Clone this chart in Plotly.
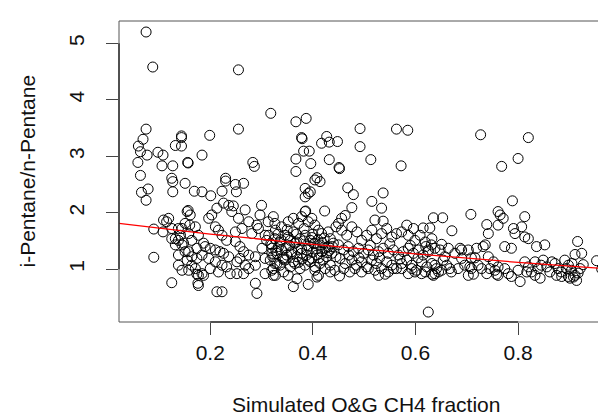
import plotly.graph_objects as go

# O&G CH4 fraction vs i-pentane/n-pentane ratio
frac = [
    0.075, 0.088, 0.255, 0.318, 0.075, 0.255, 0.069, 0.144, 0.144, 0.199, 0.060, 0.064, 0.132, 0.144,
    0.077, 0.098, 0.108, 0.059, 0.184, 0.156, 0.157, 0.106, 0.127, 0.283, 0.286, 0.064, 0.125, 0.230,
    0.127, 0.127, 0.151, 0.079, 0.066, 0.075, 0.169, 0.184, 0.201, 0.223, 0.230, 0.249, 0.251, 0.265,
    0.155, 0.157, 0.115, 0.090, 0.108, 0.125, 0.151, 0.160, 0.171, 0.125, 0.138, 0.090, 0.151, 0.164,
    0.174, 0.138, 0.145, 0.158, 0.174, 0.184, 0.176, 0.177, 0.125, 0.213, 0.223, 0.197, 0.203, 0.213,
    0.226, 0.236, 0.245, 0.190, 0.200, 0.210, 0.219, 0.226, 0.210, 0.216, 0.223, 0.232, 0.239, 0.252,
    0.265, 0.252, 0.288, 0.291, 0.249, 0.258, 0.265, 0.275, 0.288, 0.300, 0.297, 0.291, 0.307, 0.320,
    0.323, 0.327,
    0.145, 0.158, 0.142, 0.148, 0.164, 0.177, 0.187, 0.174, 0.184, 0.197, 0.155, 0.164, 0.138, 0.132,
    0.210, 0.223, 0.200, 0.216, 0.187, 0.242, 0.255, 0.268, 0.275, 0.262, 0.249, 0.281, 0.294, 0.313,
    0.327, 0.310, 0.301, 0.288, 0.307, 0.320, 0.330, 0.320, 0.307, 0.236, 0.258, 0.268, 0.275, 0.232,
    0.109, 0.119, 0.138, 0.161, 0.132, 0.145, 0.158, 0.171, 0.177,
    0.367, 0.387, 0.378, 0.379, 0.427, 0.417, 0.432, 0.448, 0.492, 0.563, 0.585, 0.492, 0.382, 0.393,
    0.367, 0.396, 0.432, 0.451, 0.452, 0.513, 0.572, 0.367, 0.408,
    0.404, 0.414, 0.385, 0.395, 0.385, 0.391, 0.468, 0.479, 0.515, 0.537, 0.534, 0.476, 0.423, 0.386,
    0.323, 0.456, 0.463, 0.521, 0.537, 0.583, 0.596, 0.615, 0.628, 0.635, 0.625, 0.362, 0.391, 0.323,
    0.343, 0.411, 0.404, 0.452, 0.528, 0.541, 0.612, 0.632, 0.573, 0.593,
    0.326, 0.339, 0.352, 0.362, 0.372, 0.378, 0.385, 0.391, 0.398, 0.404, 0.411, 0.417,
    0.314, 0.326, 0.336, 0.346, 0.356, 0.365, 0.375, 0.385, 0.395, 0.404, 0.414, 0.424, 0.434, 0.440,
    0.320, 0.330, 0.339, 0.349, 0.359, 0.369, 0.378, 0.388, 0.398, 0.408, 0.417, 0.427, 0.437,
    0.317, 0.326, 0.336, 0.346, 0.356, 0.365, 0.375, 0.385, 0.395, 0.404, 0.414, 0.424, 0.434,
    0.352, 0.369, 0.408, 0.434, 0.443,
    0.450, 0.456, 0.466, 0.476, 0.486, 0.495, 0.505, 0.515, 0.524, 0.534, 0.544, 0.554, 0.563, 0.573,
    0.586, 0.599, 0.609, 0.619, 0.632,
    0.450, 0.460, 0.469, 0.479, 0.489, 0.499, 0.508, 0.518, 0.528, 0.537, 0.547, 0.557, 0.567, 0.576,
    0.586, 0.596, 0.606, 0.615, 0.625, 0.638,
    0.453, 0.463, 0.476, 0.485, 0.495, 0.505, 0.515, 0.524, 0.534, 0.544, 0.554, 0.563, 0.573, 0.583,
    0.593, 0.602, 0.612, 0.622, 0.632, 0.641,
    0.460, 0.472, 0.482, 0.495, 0.508, 0.521, 0.547, 0.557, 0.586, 0.599, 0.619, 0.638,
    0.333, 0.343, 0.355, 0.362, 0.371, 0.380, 0.392, 0.400, 0.410, 0.420, 0.430, 0.445, 0.350, 0.368,
    0.383, 0.400, 0.430, 0.445,
    0.470, 0.490, 0.512, 0.530, 0.550, 0.570, 0.590, 0.605, 0.620,
    0.318, 0.328, 0.338, 0.348, 0.358, 0.368, 0.378, 0.388, 0.398, 0.408, 0.418, 0.428, 0.438,
    0.322, 0.332, 0.342, 0.352, 0.362, 0.372, 0.382, 0.392, 0.402, 0.412, 0.422, 0.432,
    0.727, 0.820, 0.800, 0.768,
    0.789, 0.653, 0.708, 0.671, 0.761, 0.765, 0.771, 0.761, 0.739, 0.742, 0.736, 0.732, 0.813, 0.791,
    0.807, 0.794, 0.813, 0.820, 0.836, 0.852, 0.774, 0.787, 0.916, 0.924, 0.911, 0.953, 0.963, 0.804,
    0.687, 0.690, 0.651, 0.648, 0.709, 0.716, 0.709, 0.713, 0.742, 0.745, 0.739, 0.761, 0.774, 0.781,
    0.758,
    0.813, 0.820, 0.817, 0.833, 0.839, 0.849, 0.856, 0.862, 0.872, 0.878, 0.875, 0.891, 0.898, 0.904,
    0.911, 0.914, 0.901, 0.921,
    0.638, 0.645, 0.635, 0.661, 0.667, 0.654, 0.625,
    0.703, 0.706, 0.761, 0.787, 0.800, 0.833, 0.843, 0.885, 0.898,
    0.722, 0.729, 0.755, 0.752,
    0.631, 0.657, 0.664, 0.677, 0.690, 0.696, 0.683, 0.670, 0.651, 0.719, 0.703,
    0.826, 0.845, 0.866, 0.884, 0.894, 0.905, 0.917, 0.908, 0.927,
]

ratio = [
    5.20, 4.58, 4.53, 3.76, 3.48, 3.48, 3.30, 3.36, 3.33, 3.37, 3.18, 3.08, 3.19, 3.18,
    3.02, 3.07, 3.02, 2.89, 3.02, 2.89, 2.88, 2.83, 2.83, 2.89, 2.82, 2.66, 2.61, 2.61,
    2.55, 2.37, 2.52, 2.42, 2.36, 2.22, 2.38, 2.37, 2.30, 2.38, 2.56, 2.50, 2.37, 2.52,
    2.02, 2.04, 1.84, 1.71, 1.66, 1.72, 1.81, 1.78, 1.75, 1.54, 1.51, 1.21, 1.31, 1.22,
    1.19, 1.07, 0.98, 0.98, 0.91, 0.92, 0.75, 0.71, 0.76, 0.60, 0.60, 1.90, 1.96, 2.08,
    2.17, 2.13, 2.12, 1.40, 1.37, 1.34, 1.31, 1.28, 1.75, 1.69, 1.60, 1.51, 0.92, 0.92,
    0.92, 1.13, 0.75, 0.57, 1.49, 1.40, 1.31, 1.25, 1.22, 2.13, 1.96, 1.78, 1.60, 1.43,
    1.01, 0.89,
    1.72, 1.63, 1.60, 1.46, 1.51, 1.60, 1.46, 1.37, 1.25, 1.19, 1.16, 1.07, 1.25, 1.43,
    1.13, 1.07, 1.01, 0.95, 0.89, 2.02, 1.90, 2.05, 1.84, 1.72, 1.66, 1.63, 1.72, 1.84,
    1.69, 1.51, 1.37, 1.07, 1.19, 1.28, 1.10, 0.98, 0.92, 1.22, 1.19, 1.07, 1.01, 1.04,
    1.87, 1.90, 1.72, 1.96, 1.54, 1.43, 1.31, 1.01, 0.89,
    3.61, 3.67, 3.33, 3.31, 3.35, 3.23, 3.25, 3.26, 3.49, 3.48, 3.46, 3.17, 3.09, 3.09,
    2.95, 2.87, 2.94, 2.80, 2.78, 2.94, 2.83, 2.73, 2.62,
    2.58, 2.55, 2.43, 2.37, 2.28, 2.34, 2.44, 2.32, 2.20, 2.35, 2.08, 2.09, 2.03, 2.03,
    1.93, 1.90, 1.95, 1.87, 1.85, 1.78, 1.72, 1.73, 1.73, 1.91, 0.24, 0.69, 0.73, 0.89,
    0.95, 0.89, 0.98, 0.88, 0.89, 0.91, 0.92, 0.91, 1.01, 1.01,
    1.81, 1.75, 1.84, 1.90, 1.81, 1.93, 2.02, 1.84, 1.90, 1.78, 1.69, 1.63,
    1.60, 1.54, 1.48, 1.60, 1.51, 1.46, 1.54, 1.60, 1.51, 1.46, 1.43, 1.37, 1.54, 1.46,
    1.37, 1.28, 1.34, 1.25, 1.31, 1.22, 1.28, 1.34, 1.19, 1.25, 1.31, 1.22, 1.28,
    1.16, 1.10, 1.07, 1.16, 1.04, 1.10, 1.01, 1.07, 1.13, 1.04, 1.10, 1.01, 1.07,
    0.89, 0.83, 0.86, 0.95, 0.98,
    1.81, 1.69, 1.60, 1.75, 1.66, 1.51, 1.60, 1.69, 1.54, 1.63, 1.72, 1.57, 1.63, 1.66,
    1.60, 1.51, 1.60, 1.48, 1.54,
    1.43, 1.34, 1.40, 1.31, 1.37, 1.28, 1.34, 1.25, 1.31, 1.37, 1.28, 1.34, 1.25, 1.31,
    1.37, 1.28, 1.34, 1.25, 1.31, 1.37,
    1.19, 1.10, 1.16, 1.07, 1.13, 1.04, 1.16, 1.10, 1.01, 1.13, 1.07, 1.01, 1.10, 1.16,
    1.07, 0.98, 1.13, 1.04, 1.10, 1.01,
    1.01, 0.95, 1.01, 0.95, 1.01, 0.98, 0.95, 1.01, 0.92, 0.95, 0.95, 0.92,
    1.40, 1.20, 1.42, 1.13, 1.35, 1.18, 1.41, 1.30, 1.52, 1.16, 1.40, 1.22, 1.70, 1.62,
    1.72, 1.62, 1.66, 1.75,
    1.25, 1.20, 1.42, 1.20, 1.45, 1.18, 1.42, 1.20, 1.40,
    1.45, 1.33, 1.52, 1.38, 1.27, 1.48, 1.36, 1.25, 1.56, 1.36, 1.47, 1.29, 1.40,
    1.22, 1.62, 1.18, 1.57, 1.66, 1.12, 1.50, 1.16, 1.45, 1.20, 1.55, 1.33,
    3.38, 3.33, 2.96, 2.82,
    2.21, 1.91, 1.97, 1.68, 2.02, 1.96, 1.90, 1.78, 1.79, 1.63, 1.43, 1.40, 1.93, 1.72,
    1.75, 1.63, 1.57, 1.54, 1.40, 1.43, 1.40, 1.37, 1.49, 1.28, 1.26, 1.15, 1.00, 0.78,
    1.37, 1.34, 1.44, 1.34, 1.20, 1.20, 1.01, 0.91, 1.22, 1.01, 0.92, 1.04, 1.01, 0.92,
    0.91,
    1.13, 1.04, 0.95, 1.13, 1.01, 1.16, 1.04, 0.95, 1.10, 1.01, 0.89, 1.16, 1.07, 0.98,
    0.89, 0.80, 0.84, 1.01,
    1.07, 0.95, 0.89, 1.07, 1.01, 1.16, 1.34,
    0.89, 1.04, 0.89, 0.87, 0.98, 0.89, 0.84, 0.87, 0.87,
    1.07, 1.01, 0.98, 1.13,
    1.43, 1.22, 1.37, 1.28, 1.19, 1.07, 1.01, 0.95, 0.98, 1.37, 1.34,
    0.95, 1.07, 1.13, 0.95, 1.01, 1.10, 0.93, 0.86, 1.08,
]

# fitted curve (red)
fit_x = [0.022, 0.2, 0.4, 0.6, 0.8, 0.985]
fit_y = [1.81, 1.62, 1.44, 1.27, 1.12, 1.00]

x_ticks = [0.2, 0.4, 0.6, 0.8]
y_ticks = [1, 2, 3, 4, 5]

fig = go.Figure()
fig.add_trace(go.Scatter(x=frac, y=ratio, mode="markers",
                         marker=dict(symbol="circle-open", size=10, color="black",
                                     line=dict(width=1, color="black")),
                         showlegend=False))
fig.add_trace(go.Scatter(x=fit_x, y=fit_y, mode="lines",
                         line=dict(color="red", width=1.3), showlegend=False))

font = dict(family="Liberation Sans, Arial, sans-serif", size=21, color="#111")

fig.update_layout(
    width=606, height=415,
    margin=dict(l=111, r=1, t=13, b=101),
    plot_bgcolor="white", paper_bgcolor="white",
    font=font,
    xaxis=dict(range=[0.0222, 0.985], tickvals=x_ticks, ticktext=[str(v) for v in x_ticks],
               showgrid=False, zeroline=False, showline=False,
               ticks="outside", ticklen=12, tickcolor="#444", tickwidth=1, tickfont=font),
    yaxis=dict(range=[0.064, 5.395], tickvals=y_ticks, showgrid=False, zeroline=False,
               showline=False, ticks="outside", ticklen=12, tickcolor="#444", tickwidth=1,
               tickangle=-90, tickfont=font, ticklabelstandoff=14),
)

# box around the plot + axis lines spanning the ticks (base R look)
fig.add_shape(type="rect", xref="paper", yref="paper", x0=0, y0=0, x1=1, y1=1,
              line=dict(color="#555", width=1))
fig.add_shape(type="line", xref="x", yref="paper", x0=x_ticks[0], x1=x_ticks[-1], y0=0, y1=0,
              line=dict(color="#333", width=1.5))
fig.add_shape(type="line", xref="paper", yref="y", x0=0, x1=0, y0=y_ticks[0], y1=y_ticks[-1],
              line=dict(color="#333", width=1.5))

fig.add_annotation(text="Simulated O&G CH4 fraction", xref="paper", yref="paper",
                   x=0.5, y=0, yanchor="middle", yshift=-82, showarrow=False, font=font)
fig.add_annotation(text="i-Pentane/n-Pentane", xref="paper", yref="paper",
                   x=0, y=0.5, xanchor="center", xshift=-92, textangle=-90,
                   showarrow=False, font=font)

fig.write_html("out.html")
